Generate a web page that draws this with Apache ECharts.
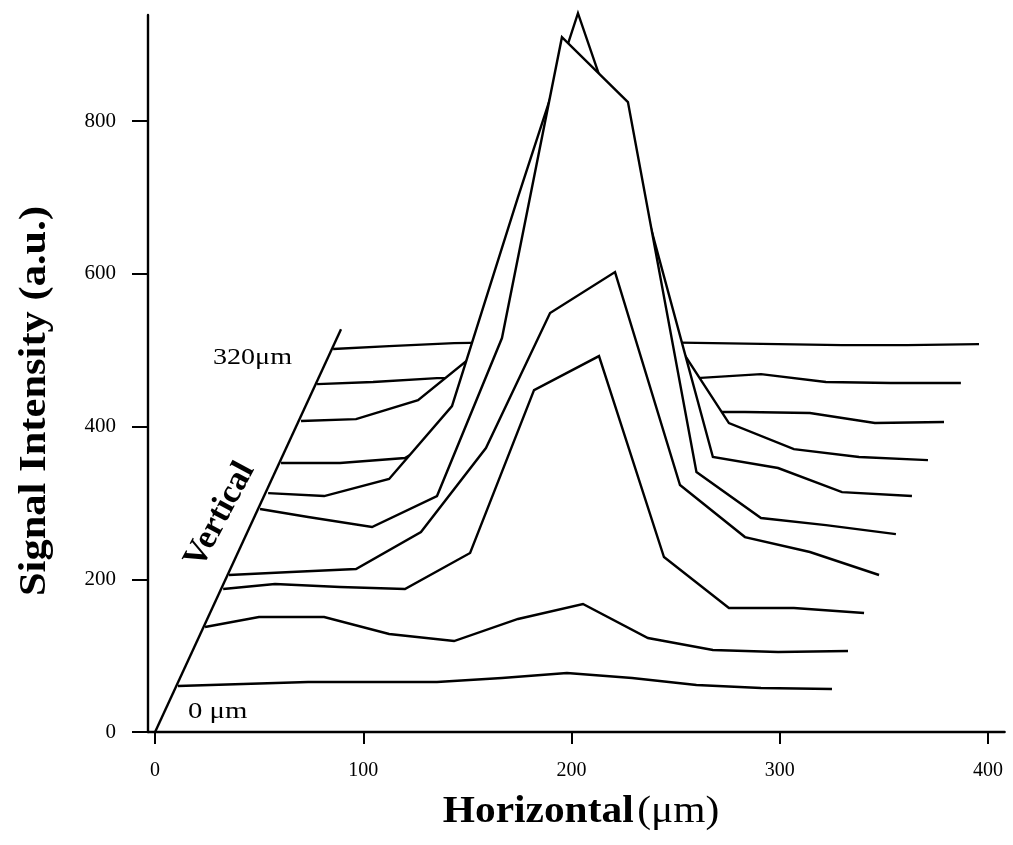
<!DOCTYPE html>
<html><head><meta charset="utf-8">
<script src="https://cdn.jsdelivr.net/npm/echarts@6/dist/echarts.min.js"></script>
<style>html,body{margin:0;padding:0;background:#fff}#chart{width:1013px;height:845px}</style>
</head><body><div id="chart"></div>
<script>
// Tick labels
const xTickValues = [0, 100, 200, 300, 400];
const yTickValues = [0, 200, 400, 600, 800];
const depthLabelFront = '0 μm';
const depthLabelBack = '320μm';

// Slices, front (0 μm) to back (320 μm): horizontal position (μm) and signal (a.u.) as drawn
const slice0X = [11.0, 42.3, 73.5, 104.2, 135.4, 166.6, 197.8, 229.1, 260.0, 291.0, 325.1];
const slice0Y = [60.2, 62.8, 65.5, 65.5, 65.5, 70.7, 77.3, 70.7, 61.5, 57.6, 56.3];
const slice1X = [24.0, 49.9, 81.2, 112.4, 143.6, 174.3, 205.5, 236.7, 267.9, 299.2, 332.8];
const slice1Y = [137.5, 150.6, 150.6, 128.3, 119.1, 148.0, 167.6, 123.1, 107.4, 104.7, 106.1];
const slice2X = [32.7, 57.6, 88.8, 120.0, 151.3, 182.0, 213.2, 244.4, 275.6, 306.8, 340.5];
const slice2Y = [187.2, 193.8, 189.9, 187.2, 234.4, 447.8, 492.3, 229.1, 162.4, 162.4, 155.8];
const slice3X = [35.5, 65.3, 96.5, 127.7, 158.9, 189.7, 220.9, 252.1, 283.3, 314.5, 347.7];
const slice3Y = [205.6, 209.5, 213.4, 261.9, 371.8, 548.6, 602.3, 323.4, 255.3, 235.7, 205.6];
const slice4X = [50.4, 73.5, 104.2, 135.4, 166.6, 195.4, 227.1, 260.0, 291.0, 322.2, 355.8];
const slice4Y = [292.0, 281.5, 268.4, 309.0, 515.9, 910.0, 824.9, 340.4, 280.2, 271.0, 259.2];
const slice5X = [54.3, 81.2, 112.4, 142.6, 174.3, 203.1, 236.7, 267.9, 299.2, 329.9, 363.5];
const slice5Y = [312.9, 309.0, 331.3, 426.8, 700.5, 941.4, 674.3, 360.1, 345.7, 314.2, 309.0];
const slice6X = [60.5, 88.8, 120.0, 151.3, 182.0, 213.2, 244.4, 275.6, 306.8, 338.1, 371.2];
const slice6Y = [352.2, 352.2, 358.8, 408.5, 631.1, 762.0, 535.5, 404.6, 370.5, 360.1, 356.1];
const slice7X = [70.1, 96.5, 126.3, 158.9, 189.7, 220.9, 252.1, 283.3, 314.5, 345.7, 378.9];
const slice7Y = [407.2, 409.8, 434.7, 506.7, 631.1, 591.8, 419.0, 419.0, 417.7, 404.6, 405.9];
const slice8X = [77.8, 104.7, 135.4, 166.6, 197.8, 229.1, 260.3, 291.0, 322.2, 353.4, 387.0];
const slice8Y = [455.6, 458.3, 463.5, 463.5, 565.6, 565.6, 463.5, 468.7, 458.3, 457.0, 457.0];
const slice9X = [85.5, 112.4, 143.6, 174.3, 205.5, 236.7, 267.9, 299.2, 329.9, 361.1, 395.7];
const slice9Y = [501.5, 505.4, 509.3, 510.6, 510.6, 510.6, 509.3, 508.0, 506.7, 506.7, 508.0];

// Oblique "Vertical" depth axis (from origin to the 320 μm slice)
const depthAxisX = [0, 89.3];
const depthAxisY = [0, 527.3];

const slicesX = [slice0X, slice1X, slice2X, slice3X, slice4X, slice5X, slice6X, slice7X, slice8X, slice9X];
const slicesY = [slice0Y, slice1Y, slice2Y, slice3Y, slice4Y, slice5Y, slice6Y, slice7Y, slice8Y, slice9Y];

const serif = 'Liberation Serif, Times New Roman, serif';
const series = [];
for (let k = slicesX.length - 1; k >= 0; k--) {
  series.push({
    type: 'line',
    name: 'slice' + k,
    data: slicesX[k].map((x, i) => [x, slicesY[k][i]]),
    symbol: 'none',
    clip: false,
    z: 2 + (slicesX.length - 1 - k),
    lineStyle: { color: '#000', width: 2.4, join: 'miter', miterLimit: 20 },
    areaStyle: { color: '#fff', opacity: 1, origin: 'start' },
    silent: true
  });
}
series.push({
  type: 'line',
  name: 'depthAxis',
  data: depthAxisX.map((x, i) => [x, depthAxisY[i]]),
  symbol: 'none',
  clip: false,
  z: 40,
  lineStyle: { color: '#000', width: 2.4 },
  silent: true
});

const chart = echarts.init(document.getElementById('chart'), null, { renderer: 'canvas' });
chart.setOption({
  animation: false,
  backgroundColor: '#fff',
  grid: { left: 148, right: 8.4, top: 15, bottom: 113, containLabel: false, outerBoundsMode: 'none' },
  xAxis: {
    type: 'value', min: -3.4, max: 408, z: 30,
    axisLine: { show: true, onZero: false, lineStyle: { color: '#000', width: 2.4 } },
    axisTick: { show: true, customValues: xTickValues, length: 12, lineStyle: { color: '#000', width: 2 } },
    axisLabel: { customValues: xTickValues, margin: 29, fontFamily: serif, fontSize: 20, color: '#000' },
    splitLine: { show: false }
  },
  yAxis: {
    type: 'value', min: 0, max: 939, z: 30,
    axisLine: { show: true, onZero: false, lineStyle: { color: '#000', width: 2.4 } },
    axisTick: { show: true, customValues: yTickValues, length: 16, lineStyle: { color: '#000', width: 2 } },
    axisLabel: { customValues: yTickValues, margin: 32, fontFamily: serif, fontSize: 21, color: '#000' },
    splitLine: { show: false }
  },
  series: series,
  graphic: [
    { type: 'text', x: 581, y: 812, z: 50, scaleX: 1.09,
      style: { text: '{b|Horizontal} {n|(μm)}', align: 'center', verticalAlign: 'middle',
        rich: { b: { fontFamily: serif, fontWeight: 'bold', fontSize: 38, fill: '#000' },
                n: { fontFamily: serif, fontSize: 38, fill: '#000' } } } },
    { type: 'text', x: 35, y: 401, rotation: Math.PI / 2, scaleX: 1.12, z: 50,
      style: { text: 'Signal Intensity (a.u.)', align: 'center', verticalAlign: 'middle',
        fontFamily: serif, fontWeight: 'bold', fontSize: 38, fill: '#000' } },
    { type: 'text', x: 213, y: 358, z: 50, scaleX: 1.22,
      style: { text: depthLabelBack, align: 'left', verticalAlign: 'middle', fontFamily: serif, fontSize: 23, fill: '#000' } },
    { type: 'text', x: 188, y: 712, z: 50, scaleX: 1.25,
      style: { text: depthLabelFront, align: 'left', verticalAlign: 'middle', fontFamily: serif, fontSize: 23, fill: '#000' } },
    { type: 'text', x: 220, y: 515, rotation: 62 * Math.PI / 180, z: 50,
      style: { text: 'Vertical', align: 'center', verticalAlign: 'middle', fontFamily: serif, fontWeight: 'bold', fontSize: 34, fill: '#000' } }
  ]
});
</script></body></html>
